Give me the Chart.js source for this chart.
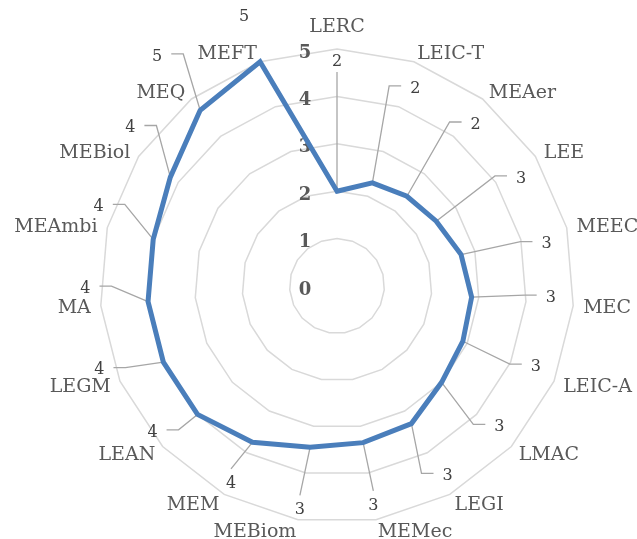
<!DOCTYPE html>
<html>
<head>
<meta charset="utf-8">
<title>Radar</title>
<script src="https://cdn.jsdelivr.net/npm/chart.js@4/dist/chart.umd.min.js"></script>
<style>
  html, body { margin: 0; padding: 0; background: #ffffff; }
  canvas { display: block; }
</style>
</head>
<body>
<canvas id="radar" width="637" height="539"></canvas>
<script>
// Programme codes around the radar, clockwise from the top
const categories = ['LERC', 'LEIC-T', 'MEAer', 'LEE', 'MEEC', 'MEC', 'LEIC-A', 'LMAC', 'LEGI',
  'MEMec', 'MEBiom', 'MEM', 'LEAN', 'LEGM', 'MA', 'MEAmbi', 'MEBiol', 'MEQ', 'MEFT'];

// Mean score per programme (labels show the rounded value)
const scores = [2.0, 2.3, 2.4, 2.5, 2.7, 2.85, 2.9, 3.0, 3.3,
  3.35, 3.45, 3.75, 4.0, 4.0, 4.0, 4.0, 4.2, 4.7, 5.0];

// Radial axis ticks
const tickValues = [0, 1, 2, 3, 4, 5];
const tickLabels = ['0', '1', '2', '3', '4', '5'];

const SERIF = '"DejaVu Serif", "Liberation Serif", serif';

const rad = d => d * Math.PI / 180;

// small angular nudge for value labels depending on which side of the chart they sit
function labelNudge(deg) {
  if (deg < 10 || deg > 315) return 0;
  if (deg < 90) return 2.5;
  if (deg < 160) return -2;
  if (deg < 215) return 0;
  return 4.5;
}

// how far beyond its point a value label sits
function labelReach(deg) {
  if (deg > 200 && deg < 240) return 45;
  if (deg > 315 && deg < 350) return 70;
  return 62;
}

const radarText = {
  id: 'radarText',
  beforeDatasetsDraw(chart) {
    const s = chart.scales.r;
    const ctx = chart.ctx;
    ctx.save();

    // tick numbers, set to the left of the vertical axis
    ctx.font = 'bold 18px ' + SERIF;
    ctx.fillStyle = '#595959';
    ctx.textAlign = 'center';
    ctx.textBaseline = 'alphabetic';
    s.ticks.forEach((t, k) => {
      const y = s.yCenter - s.getDistanceFromCenterForValue(t.value);
      ctx.fillText(tickLabels[k] ?? String(t.value), s.xCenter - 32, y + 2 + 6.5);
    });

    // leader lines from each point to its value label
    ctx.strokeStyle = '#a6a6a6';
    ctx.lineWidth = 1.3;
    valueLabelLayout(chart).forEach(L => {
      if (!L.leader) return;
      ctx.beginPath();
      ctx.moveTo(L.pt.x, L.pt.y);
      L.leader.forEach(p => ctx.lineTo(p.x, p.y));
      ctx.stroke();
    });
    ctx.restore();
  },
  afterDatasetsDraw(chart) {
    const s = chart.scales.r;
    const ctx = chart.ctx;
    const n = categories.length;
    ctx.save();

    // category names around the outer ring
    ctx.font = '19px ' + SERIF;
    ctx.fillStyle = '#595959';
    ctx.textBaseline = 'alphabetic';
    for (let i = 0; i < n; i++) {
      const deg = Math.round(i * 360 / n);
      const p = s.getPointPosition(i, s.drawingArea + 10);
      if (deg === 0 || deg === 180) {
        ctx.textAlign = 'center';
        ctx.fillText(categories[i], p.x, deg === 0 ? p.y - 7 : p.y + 15);
      } else {
        ctx.textAlign = deg < 180 ? 'left' : 'right';
        ctx.fillText(categories[i], p.x, p.y + 7);
      }
    }

    // value labels
    ctx.font = '16px ' + SERIF;
    ctx.fillStyle = '#404040';
    ctx.textAlign = 'center';
    valueLabelLayout(chart).forEach(L => {
      ctx.fillText(L.text, L.cx, L.cy + 5.8);
    });
    ctx.restore();
  }
};

function valueLabelLayout(chart) {
  const s = chart.scales.r;
  const ctx = chart.ctx;
  const n = categories.length;
  ctx.save();
  ctx.font = '16px ' + SERIF;
  const out = scores.map((v, i) => {
    const deg = i * 360 / n;
    const pR = s.getDistanceFromCenterForValue(v);
    const pt = s.getPointPosition(i, pR);
    const text = v.toFixed(0);
    const w = ctx.measureText(text).width;
    if (v >= s.max - 1e-9) {
      const c = s.getPointPosition(i, pR + 49);
      return { pt, text, cx: c.x, cy: c.y, leader: null };
    }
    const top = deg < 10 || deg > 350;
    const c = s.getPointPosition(i, Math.max(top ? 226 : 214, pR + labelReach(deg)), rad(labelNudge(deg)));
    let leader;
    if (top) {
      leader = [{ x: c.x, y: c.y + 12 }];
    } else if (deg > 160 && deg < 215) {
      leader = [{ x: c.x, y: c.y - 13 }];
    } else if (deg < 180) {
      const ex = c.x - w / 2 - 9;
      leader = [{ x: ex - 12, y: c.y - 1 }, { x: ex, y: c.y - 1 }];
    } else {
      const ex = c.x + w / 2 + 9;
      leader = [{ x: ex + 12, y: c.y - 1 }, { x: ex, y: c.y - 1 }];
    }
    return { pt, text, cx: c.x, cy: c.y, leader };
  });
  ctx.restore();
  return out;
}

new Chart(document.getElementById('radar'), {
  type: 'radar',
  data: {
    labels: categories,
    datasets: [{
      label: 'Score',
      data: scores,
      borderColor: '#4a7ebb',
      backgroundColor: 'rgba(0,0,0,0)',
      borderWidth: 5,
      borderJoinStyle: 'miter',
      fill: false,
      pointRadius: 0,
      pointHoverRadius: 0,
      tension: 0
    }]
  },
  options: {
    responsive: false,
    animation: false,
    devicePixelRatio: 1,
    layout: { padding: { left: 100, right: 62, top: 49, bottom: 15 } },
    plugins: {
      legend: { display: false },
      tooltip: { enabled: false }
    },
    scales: {
      r: {
        min: 0,
        max: 5,
        afterBuildTicks: axis => { axis.ticks = tickValues.map(v => ({ value: v })); },
        ticks: { display: false, stepSize: 1 },
        grid: { color: '#d9d9d9', lineWidth: 1.5 },
        angleLines: { display: false },
        pointLabels: { display: false }
      }
    }
  },
  plugins: [radarText]
});
</script>
</body>
</html>
